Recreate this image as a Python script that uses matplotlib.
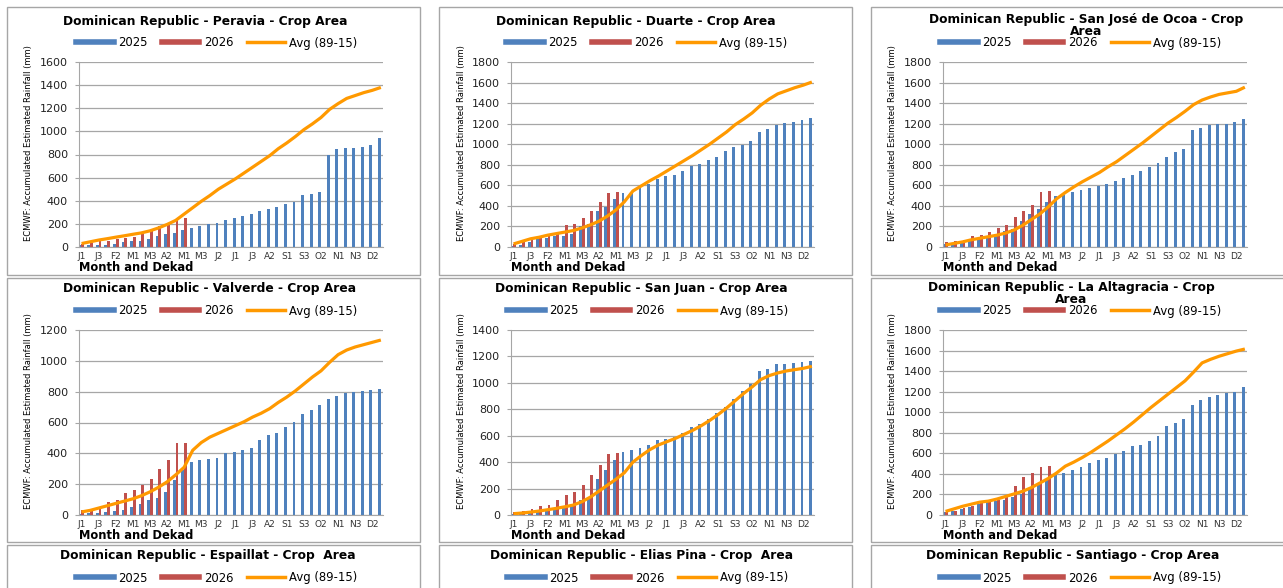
# Dominican Republic - accumulated ECMWF rainfall per province, 2025 / 2026 vs average
import matplotlib
matplotlib.use("Agg")
from matplotlib import pyplot as plt
from matplotlib import font_manager
from matplotlib.lines import Line2D
from matplotlib.patches import Rectangle
import numpy as np

dekads = ["J1", "J2", "J3", "F1", "F2", "F3", "M1", "M2", "M3", "A1", "A2", "A3",
          "M1", "M2", "M3", "J1", "J2", "J3", "J1", "J2", "J3", "A1", "A2", "A3",
          "S1", "S2", "S3", "O1", "O2", "O3", "N1", "N2", "N3", "D1", "D2", "D3"]

peravia_2025 = [15, 15, 20, 20, 25, 40, 48, 55, 72, 95, 110, 125, 150, 165, 180, 200, 210, 235,
                250, 265, 285, 315, 330, 345, 370, 385, 450, 460, 480, 800, 850, 860, 860, 865, 880, 945]
peravia_2026 = [25, 35, 50, 55, 65, 75, 90, 110, 135, 185, 210, 240, 255]
peravia_avg = [30, 45, 60, 72, 85, 97, 110, 122, 140, 165, 195, 230, 285, 340, 395, 445, 500, 545,
               590, 640, 690, 740, 790, 850, 900, 955, 1015, 1065, 1120, 1190, 1240, 1285, 1310, 1335, 1355, 1380]

duarte_2025 = [10, 20, 50, 75, 90, 105, 110, 130, 200, 225, 350, 385, 470, 530, 540, 580, 615, 660,
               690, 705, 740, 785, 810, 850, 880, 935, 975, 995, 1035, 1115, 1150, 1185, 1210, 1220, 1240, 1255]
duarte_2026 = [25, 50, 75, 95, 120, 140, 210, 225, 280, 350, 440, 530, 535]
duarte_avg = [30, 55, 80, 95, 115, 130, 145, 160, 185, 215, 250, 300, 360, 440, 545, 595, 645, 690,
              740, 790, 840, 890, 945, 1000, 1060, 1120, 1190, 1245, 1305, 1380, 1440, 1490, 1520, 1550, 1575, 1605]

ocoa_2025 = [30, 40, 60, 70, 85, 95, 130, 160, 180, 250, 320, 370, 440, 500, 510, 540, 555, 570,
             595, 615, 640, 670, 700, 735, 775, 820, 875, 920, 955, 1140, 1160, 1185, 1195, 1200, 1215, 1245]
ocoa_2026 = [50, 55, 65, 105, 120, 145, 185, 215, 290, 350, 410, 535, 545]
ocoa_avg = [20, 35, 50, 70, 85, 100, 115, 135, 165, 210, 265, 320, 390, 470, 530, 585, 635, 680,
            725, 780, 830, 890, 950, 1010, 1075, 1140, 1205, 1260, 1320, 1385, 1430, 1460, 1485, 1500, 1515, 1555]

valverde_2025 = [5, 10, 15, 20, 25, 35, 55, 70, 95, 110, 150, 230, 290, 345, 360, 365, 370, 405,
                 410, 420, 435, 485, 520, 535, 570, 605, 655, 680, 715, 755, 775, 790, 800, 805, 810, 820]
valverde_2026 = [35, 40, 55, 85, 95, 140, 165, 195, 235, 300, 355, 465, 465]
valverde_avg = [20, 30, 45, 60, 75, 90, 105, 125, 150, 180, 215, 260, 310, 420, 470, 505, 530, 555,
                580, 605, 635, 660, 690, 730, 765, 805, 850, 895, 935, 990, 1040, 1070, 1090, 1105, 1120, 1135]

sanjuan_2025 = [10, 15, 20, 25, 30, 45, 60, 75, 110, 130, 275, 340, 420, 475, 495, 510, 530, 565,
                575, 590, 620, 665, 690, 730, 775, 820, 880, 935, 990, 1090, 1105, 1140, 1145, 1150, 1160, 1165]
sanjuan_2026 = [20, 30, 45, 65, 75, 110, 155, 175, 230, 305, 380, 460, 470]
sanjuan_avg = [10, 15, 22, 30, 40, 50, 62, 75, 100, 135, 180, 225, 270, 320, 400, 450, 495, 530,
               555, 580, 610, 640, 675, 715, 760, 810, 865, 920, 970, 1025, 1055, 1075, 1090, 1100, 1110, 1125]

altagracia_2025 = [25, 40, 55, 80, 110, 125, 135, 150, 180, 205, 260, 300, 340, 385, 410, 440, 470, 510,
                   535, 555, 595, 625, 670, 685, 720, 765, 865, 895, 935, 1075, 1115, 1150, 1165, 1185, 1200, 1250]
altagracia_2026 = [30, 40, 65, 90, 130, 140, 150, 175, 280, 370, 410, 465, 475]
altagracia_avg = [35, 60, 85, 105, 125, 135, 155, 180, 205, 230, 265, 310, 355, 410, 475, 515, 560, 610,
                  665, 720, 780, 840, 905, 975, 1045, 1110, 1175, 1240, 1305, 1390, 1480, 1515, 1545, 1570, 1595, 1615]

blue = "#4F81BD"
red = "#C0504D"
orange = "#FF9900"
grey = "#A6A6A6"

W, H = 1283, 588


def rect(l, t, r, b):
    return [l / W, 1 - b / H, (r - l) / W, (b - t) / H]


names = {f.name for f in font_manager.fontManager.ttflist}
if "Liberation Sans Narrow" in names:
    ylab_font = dict(family="Liberation Sans Narrow", fontsize=7.5)
else:
    ylab_font = dict(family="DejaVu Sans", fontsize=6)

panels = [
    ("Dominican Republic - Peravia - Crop Area", peravia_2025, peravia_2026, peravia_avg, 1600, 0, 0, 205, 217),
    ("Dominican Republic - Duarte - Crop Area", duarte_2025, duarte_2026, duarte_avg, 1800, 0, 1, 636, 647),
    ("Dominican Republic - San José de Ocoa - Crop\nArea", ocoa_2025, ocoa_2026, ocoa_avg, 1800, 0, 2, 1086, 1081),
    ("Dominican Republic - Valverde - Crop Area", valverde_2025, valverde_2026, valverde_avg, 1200, 1, 0, 210, 217),
    ("Dominican Republic - San Juan - Crop Area", sanjuan_2025, sanjuan_2026, sanjuan_avg, 1400, 1, 1, 641, 648),
    ("Dominican Republic - La Altagracia - Crop\nArea", altagracia_2025, altagracia_2026, altagracia_avg, 1800, 1, 2, 1071, 1081),
]
bottom_titles = [("Dominican Republic - Espaillat - Crop  Area", 208, 217),
                 ("Dominican Republic - Elias Pina - Crop  Area", 642, 648),
                 ("Dominican Republic - Santiago - Crop Area", 1073, 1081)]

frame_x = [(7, 420), (439, 852), (871, 1295)]
frame_y = [(7, 275), (278, 542), (545, 700)]
plot_x = [(79, 383), (511, 814), (943, 1247)]
plot_y = [(62, 247), (330, 515)]
title_y = [21, 289, 556]
legend_y = [43, 311, 578]

fig = plt.figure(figsize=(W / 100, H / 100), dpi=100)
fig.patch.set_facecolor("white")

for (l, r) in frame_x:
    for (t, b) in frame_y:
        fig.add_artist(Rectangle((l / W, 1 - b / H), (r - l) / W, (b - t) / H,
                                 transform=fig.transFigure, fill=False, edgecolor=grey, lw=1))

handles = [Line2D([], [], color=blue, lw=4), Line2D([], [], color=red, lw=4),
           Line2D([], [], color=orange, lw=2.5)]
labels = ["2025", "2026", "Avg (89-15)"]


def add_head(title, row, tx, lx):
    ty = title_y[row]
    if "\n" in title:
        # wrapped title, second line sits just above the legend
        fig.text(tx / W, 1 - (ty + 4.5) / H, title, ha="center", va="center",
                 fontsize=8.8, fontweight="bold", linespacing=0.9)
    else:
        fig.text(tx / W, 1 - ty / H, title, ha="center", va="center",
                 fontsize=8.8, fontweight="bold")
    fig.legend(handles, labels, loc="center", bbox_to_anchor=(lx / W, 1 - legend_y[row] / H),
               ncol=3, frameon=False, fontsize=8.4, handlelength=3.2, handletextpad=0.4,
               columnspacing=1.2, borderaxespad=0, borderpad=0)


x = np.arange(len(dekads))
for title, d25, d26, avg, ymax, row, col, tx, lx in panels:
    ax = fig.add_axes(rect(plot_x[col][0], plot_y[row][0], plot_x[col][1], plot_y[row][1]))
    ax.bar(x - 0.16, d25, width=0.34, color=blue, zorder=2)
    ax.bar(x[:len(d26)] + 0.16, d26, width=0.34, color=red, zorder=2)
    ax.plot(x, avg, color=orange, lw=2.3, zorder=3, solid_capstyle="butt")
    ax.set_xlim(-0.3, 35.25)
    ax.set_ylim(0, ymax)
    ax.set_yticks(np.arange(0, ymax + 1, 200))
    ax.set_xticks(x[::2])
    ax.set_xticklabels(dekads[::2])
    ax.tick_params(axis="x", length=0, labelsize=6.5, pad=3.5, colors="#333333")
    ax.tick_params(axis="y", length=3, labelsize=8, pad=5, color=grey, labelcolor="#222222")
    ax.grid(axis="y", color=grey, lw=0.9, zorder=0)
    ax.set_axisbelow(True)
    for s in ["top", "right"]:
        ax.spines[s].set_visible(False)
    for s in ["left", "bottom"]:
        ax.spines[s].set_color(grey)
    ax.set_ylabel("ECMWF: Accumulated Estimated Rainfall (mm)", **ylab_font)
    ax.yaxis.set_label_coords(-0.15, 0.56)
    ax.text(0, -0.11, "Month and Dekad", transform=ax.transAxes, ha="left", va="center",
            fontsize=8.3, fontweight="bold")
    add_head(title, row, tx, lx)

for title, tx, lx in bottom_titles:
    add_head(title, 2, tx, lx)

fig.savefig("out.png", dpi=100)
